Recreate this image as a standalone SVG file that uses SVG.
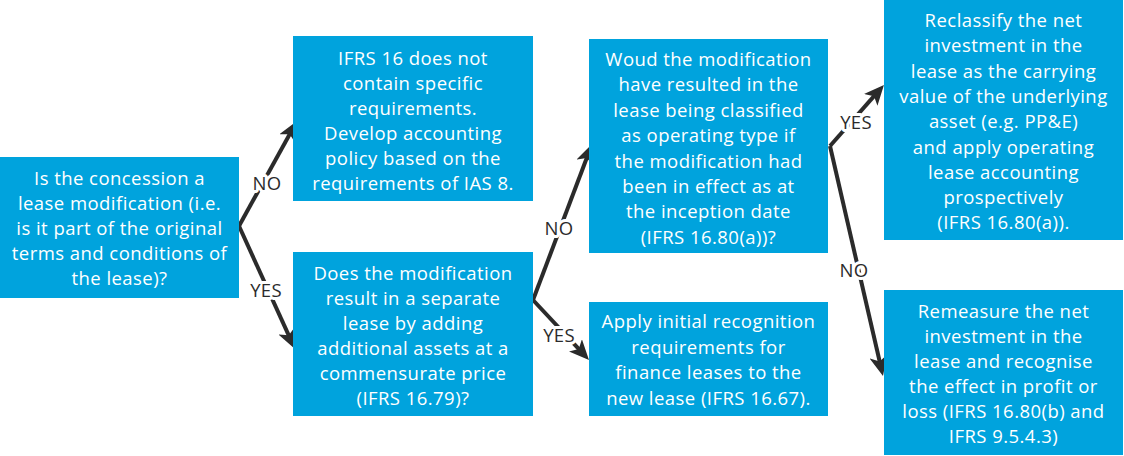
<svg xmlns="http://www.w3.org/2000/svg" width="1124" height="456" viewBox="0 0 1124 456">
<style>
.box{fill:#00A3DD;}
.t{font-family:"Open Sans","Liberation Sans",sans-serif;font-size:18.5px;letter-spacing:0.45px;fill:#FFFFFF;text-anchor:middle;}
.lbl{font-family:"Open Sans","Liberation Sans",sans-serif;font-size:18.5px;letter-spacing:0.3px;fill:#2B2B2B;text-anchor:middle;stroke:#FFFFFF;stroke-width:6px;paint-order:stroke;stroke-linejoin:round;}
.arr{stroke:#2B2B2B;stroke-width:4;fill:none;marker-end:url(#ah);}
</style>
<defs>
<marker id="ah" markerUnits="userSpaceOnUse" viewBox="0 0 20 18" markerWidth="20" markerHeight="18" refX="8" refY="9" orient="auto">
<path d="M0,0 L20,9 L0,18 L5,9 z" fill="#2B2B2B"/>
</marker>
</defs>
<rect width="1124" height="456" fill="#FFFFFF"/>
<g id="connectors">
<line class="arr" x1="239" y1="226" x2="291.2" y2="131.5"/>
<line class="arr" x1="239" y1="226" x2="290" y2="338.1"/>
<line class="arr" x1="533" y1="300" x2="587.8" y2="155.2"/>
<line class="arr" x1="533" y1="300" x2="580.8" y2="351.2"/>
<line class="arr" x1="830" y1="146" x2="876" y2="93.9"/>
<line class="arr" x1="830" y1="146" x2="880.3" y2="364.3"/>
<text class="lbl" x="267" y="190">NO</text>
<text class="lbl" x="266" y="297">YES</text>
<text class="lbl" x="559" y="235">NO</text>
<text class="lbl" x="559" y="342">YES</text>
<text class="lbl" x="856" y="129">YES</text>
<text class="lbl" x="854" y="277">NO</text>
</g>
<g id="q1">
<rect class="box" x="0" y="157" width="239" height="141"/>
<text class="t" x="119.5" y="185">Is the concession a</text>
<text class="t" x="119.5" y="210">lease modification (i.e.</text>
<text class="t" x="119.5" y="235">is it part of the original</text>
<text class="t" x="119.5" y="260">terms and conditions of</text>
<text class="t" x="119.5" y="285">the lease)?</text>
</g>
<g id="nopolicy">
<rect class="box" x="293" y="36" width="240" height="165"/>
<text class="t" x="413" y="65">IFRS 16 does not</text>
<text class="t" x="413" y="90">contain specific</text>
<text class="t" x="413" y="115">requirements.</text>
<text class="t" x="413" y="140">Develop accounting</text>
<text class="t" x="413" y="165">policy based on the</text>
<text class="t" x="413" y="190">requirements of IAS 8.</text>
</g>
<g id="q2">
<rect class="box" x="293" y="252" width="240" height="164"/>
<text class="t" x="413" y="280">Does the modification</text>
<text class="t" x="413" y="305">result in a separate</text>
<text class="t" x="413" y="330">lease by adding</text>
<text class="t" x="413" y="355">additional assets at a</text>
<text class="t" x="413" y="380">commensurate price</text>
<text class="t" x="413" y="405">(IFRS 16.79)?</text>
</g>
<g id="q3">
<rect class="box" x="589" y="39" width="239" height="214"/>
<text class="t" x="708.5" y="66">Woud the modification</text>
<text class="t" x="708.5" y="91.4">have resulted in the</text>
<text class="t" x="708.5" y="116.8">lease being classified</text>
<text class="t" x="708.5" y="142.2">as operating type if</text>
<text class="t" x="708.5" y="167.6">the modification had</text>
<text class="t" x="708.5" y="193">been in effect as at</text>
<text class="t" x="708.5" y="218.4">the inception date</text>
<text class="t" x="708.5" y="243.8">(IFRS 16.80(a))?</text>
</g>
<g id="initial">
<rect class="box" x="589" y="302" width="239" height="114"/>
<text class="t" x="708.5" y="328">Apply initial recognition</text>
<text class="t" x="708.5" y="353.5">requirements for</text>
<text class="t" x="708.5" y="379">finance leases to the</text>
<text class="t" x="708.5" y="404.5">new lease (IFRS 16.67).</text>
</g>
<g id="reclassify">
<rect class="box" x="884" y="-1" width="239" height="241"/>
<text class="t" x="1003.5" y="27">Reclassify the net</text>
<text class="t" x="1003.5" y="52.3">investment in the</text>
<text class="t" x="1003.5" y="77.6">lease as the carrying</text>
<text class="t" x="1003.5" y="102.9">value of the underlying</text>
<text class="t" x="1003.5" y="128.2">asset (e.g. PP&amp;E)</text>
<text class="t" x="1003.5" y="153.5">and apply operating</text>
<text class="t" x="1003.5" y="178.8">lease accounting</text>
<text class="t" x="1003.5" y="204.1">prospectively</text>
<text class="t" x="1003.5" y="229.4">(IFRS 16.80(a)).</text>
</g>
<g id="remeasure">
<rect class="box" x="884" y="290" width="239" height="165"/>
<text class="t" x="1003.5" y="318">Remeasure the net</text>
<text class="t" x="1003.5" y="343">investment in the</text>
<text class="t" x="1003.5" y="368">lease and recognise</text>
<text class="t" x="1003.5" y="393">the effect in profit or</text>
<text class="t" x="1003.5" y="418">loss (IFRS 16.80(b) and</text>
<text class="t" x="1003.5" y="443">IFRS 9.5.4.3)</text>
</g>
</svg>
